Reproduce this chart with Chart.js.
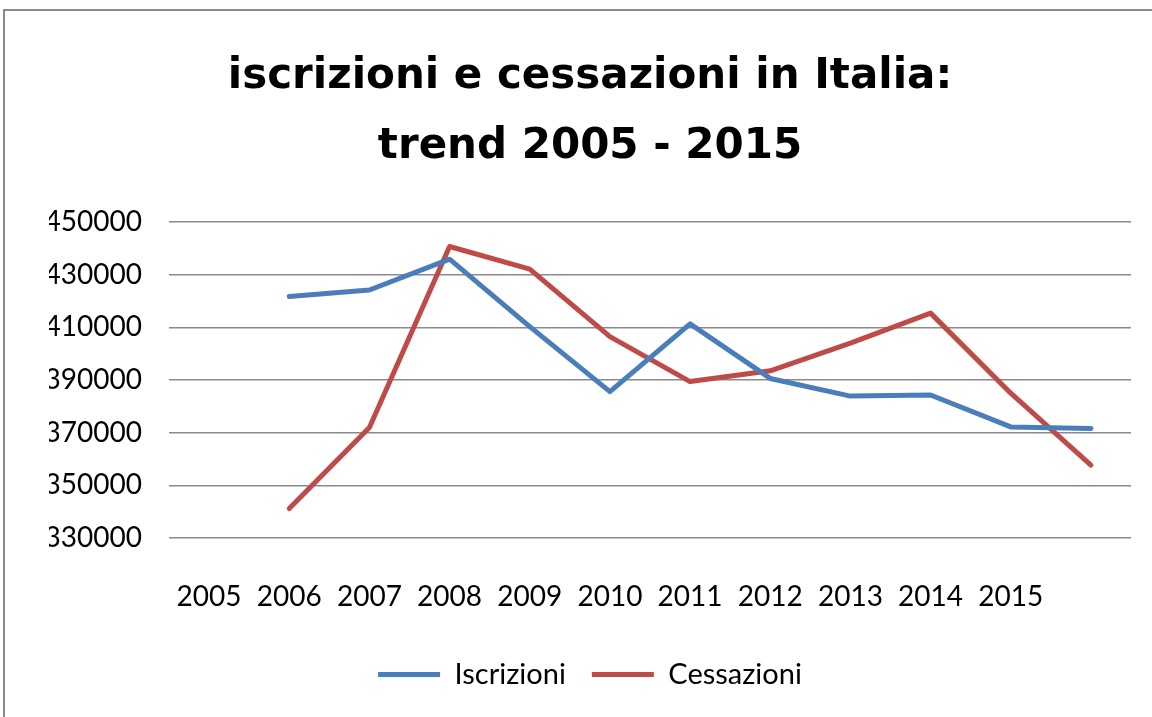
<!DOCTYPE html>
<html>
<head>
<meta charset="utf-8">
<title>iscrizioni e cessazioni in Italia</title>
<script src="https://cdn.jsdelivr.net/npm/chart.js@4/dist/chart.umd.min.js"></script>
<style>
  html, body { margin: 0; padding: 0; background: #fff; overflow: hidden; }
  #frame { position: absolute; left: 3px; top: 9px; width: 1200px; height: 760px; border: 2px solid #8a8a8a; }
  #wrap { position: absolute; left: 0; top: 0; width: 1152px; height: 717px; }
</style>
</head>
<body>
<div id="frame"></div>
<div id="wrap"><canvas id="trendChart" width="1152" height="717"></canvas></div>
<script>
// x labels as shown on the axis (values sit one slot to the right, like in the original sheet)
const years = ['2005', '2006', '2007', '2008', '2009', '2010', '2011', '2012', '2013', '2014', '2015'];
const iscrizioni = [421700, 424200, 435900, 410300, 385600, 411300, 390600, 383900, 384300, 372200, 371600];
const cessazioni = [341200, 372000, 440700, 432100, 406500, 389400, 393500, 404000, 415400, 385000, 357700];
const yTicks = [330000, 350000, 370000, 390000, 410000, 430000, 450000];

Chart.defaults.font.family = 'Lato, "Open Sans", sans-serif';
Chart.defaults.color = '#000';

const labels = years.concat(['']);

new Chart(document.getElementById('trendChart'), {
  type: 'line',
  data: {
    labels,
    datasets: [{
      label: 'Iscrizioni',
      data: [null].concat(iscrizioni),
      borderColor: '#4a7ebb',
      backgroundColor: '#4a7ebb',
      borderWidth: 5,
      pointRadius: 0,
      tension: 0,
      borderJoinStyle: 'round',
      borderCapStyle: 'round',
    }, {
      label: 'Cessazioni',
      data: [null].concat(cessazioni),
      borderColor: '#be4b48',
      backgroundColor: '#be4b48',
      borderWidth: 5,
      pointRadius: 0,
      tension: 0,
      borderJoinStyle: 'round',
      borderCapStyle: 'round',
    }],
  },
  options: {
    responsive: false,
    animation: false,
    layout: { padding: { left: 49, right: 21, top: 20, bottom: 18 } },
    plugins: {
      title: {
        display: true,
        text: ['iscrizioni e cessazioni in Italia:', 'trend 2005 - 2015'],
        font: { family: '"DejaVu Sans", sans-serif', size: 42, weight: 'bold', lineHeight: 1.667 },
        color: '#000',
        padding: { top: 22, bottom: 40 },
      },
      legend: {
        position: 'bottom',
        labels: {
          usePointStyle: true,
          pointStyle: 'line',
          pointStyleWidth: 62,
          padding: 26,
          font: { size: 29 },
          color: '#000',
        },
      },
      tooltip: { enabled: false },
    },
    scales: {
      x: {
        offset: true,
        grid: { display: false },
        border: { display: false },
        ticks: { font: { size: 28 }, padding: 34, maxRotation: 0, autoSkip: false },
        afterFit: (s) => { s.height = 96; },
      },
      y: {
        min: yTicks[0],
        max: yTicks[yTicks.length - 1],
        afterBuildTicks: (s) => { s.ticks = yTicks.map((v) => ({ value: v })); },
        grid: { color: '#8a8a8a', lineWidth: 1.5, drawTicks: false },
        border: { display: false },
        ticks: { font: { size: 28 }, padding: 27, callback: (v) => String(v) },
        afterFit: (s) => { s.width = 120; },
      },
    },
  },
});
</script>
</body>
</html>
